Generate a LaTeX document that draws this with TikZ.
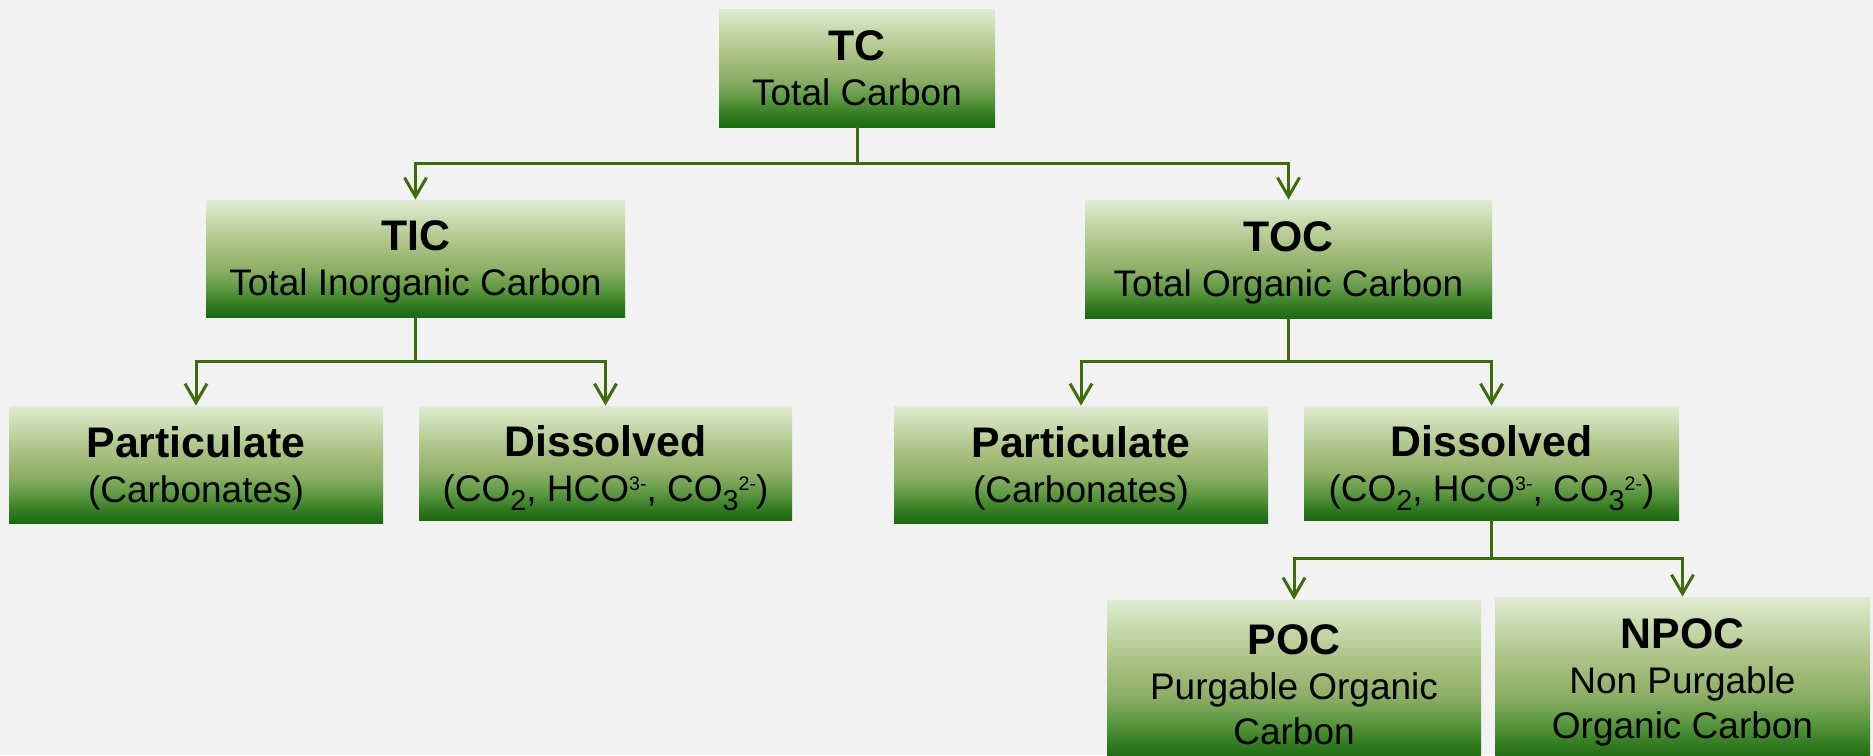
\documentclass[tikz,border=0pt]{standalone}
\usepackage{fontspec}
\setmainfont{Liberation Sans}
\usetikzlibrary{arrows.meta}
\definecolor{bg}{RGB}{242,242,242}
\definecolor{lnc}{RGB}{62,108,10}
\definecolor{ga}{RGB}{26,105,18}
\definecolor{gb}{RGB}{50,122,32}
\definecolor{gc}{RGB}{92,152,66}
\definecolor{gd}{RGB}{140,174,102}
\definecolor{ge}{RGB}{168,192,128}
\definecolor{gf}{RGB}{196,214,168}
\definecolor{gg}{RGB}{224,235,210}
\pgfdeclareverticalshading{boxshade}{100bp}{color(0bp)=(ga); color(25bp)=(ga); color(30bp)=(gb); color(37bp)=(gc); color(45bp)=(gd); color(55bp)=(ge); color(65bp)=(gf); color(75bp)=(gg); color(100bp)=(gg)}
\newcommand\mysub[1]{\raisebox{-4.6pt}{\fontsize{14.4pt}{14.4pt}\selectfont #1}}
\newcommand\mysup[1]{\raisebox{5.4pt}{\fontsize{9.8pt}{9.8pt}\selectfont #1}}
\newcommand\hd[1]{{\fontsize{21.4pt}{22.5pt}\selectfont\bfseries #1}}
\tikzset{
  gbox/.style={shading=boxshade, draw=none, inner sep=0pt, align=center, text depth=0pt,
    font=\fontsize{18.5pt}{22.5pt}\selectfont},
  conn/.style={draw=lnc, line width=1.5pt},
  arr/.style={conn, -{Straight Barb[length=9.5pt,width=11pt,line width=1.5pt]}}
}
\begin{document}
\begin{tikzpicture}[x=0.5pt,y=-0.5pt]
\fill[bg] (0,0) rectangle (1873,755);
\useasboundingbox (0,0) rectangle (1873,755);
\clip (0,0) rectangle (1873,755);
\node[gbox, minimum width=138pt, minimum height=59pt] (tc) at (857,68) {\hd{TC}\\Total Carbon};
\node[gbox, minimum width=209.5pt, minimum height=58.5pt] (tic) at (415.5,258.5) {\hd{TIC}\\Total Inorganic Carbon};
\node[gbox, minimum width=203.5pt, minimum height=59pt] (toc) at (1288.5,259) {\hd{TOC}\\Total Organic Carbon};
\node[gbox, minimum width=187pt, minimum height=58.5pt] (partl) at (196,464.5) {\hd{Particulate}\\(Carbonates)};
\node[gbox, minimum width=186.5pt, minimum height=57pt] (dissl) at (605.5,463) {\hd{Dissolved}\\(CO\mysub{2}, HCO\mysup{3-}, CO\mysub{3}\mysup{2-})};
\node[gbox, minimum width=187pt, minimum height=58.5pt] (partr) at (1081,464.5) {\hd{Particulate}\\(Carbonates)};
\node[gbox, minimum width=187.5pt, minimum height=57pt] (dissr) at (1491.5,463) {\hd{Dissolved}\\(CO\mysub{2}, HCO\mysup{3-}, CO\mysub{3}\mysup{2-})};
\node[gbox, minimum width=187pt, minimum height=80pt] (poc) at (1294,680) {\rule{0pt}{19pt}\hd{POC}\\Purgable Organic\\Carbon};
\node[gbox, minimum width=187.5pt, minimum height=82pt] (npoc) at (1682.5,679) {\hd{NPOC}\\Non Purgable\\Organic Carbon};
\coordinate (j1) at (857,163);
\coordinate (j2) at (415.5,361);
\coordinate (j3) at (1288.5,361);
\coordinate (j4) at (1491.5,558);
\draw[conn] (tc.south) -- (j1);
\draw[arr] (j1) -| (tic.north);
\draw[arr] (j1) -| (toc.north);
\draw[conn] (tic.south) -- (j2);
\draw[arr] (j2) -| (partl.north);
\draw[arr] (j2) -| (dissl.north);
\draw[conn] (toc.south) -- (j3);
\draw[arr] (j3) -| (partr.north);
\draw[arr] (j3) -| (dissr.north);
\draw[conn] (dissr.south) -- (j4);
\draw[arr] (j4) -| (poc.north);
\draw[arr] (j4) -| (npoc.north);
\end{tikzpicture}
\end{document}
